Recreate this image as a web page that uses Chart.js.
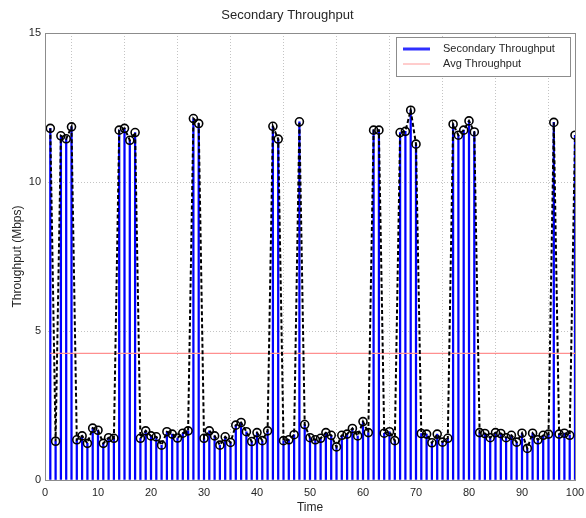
<!DOCTYPE html>
<html>
<head>
<meta charset="utf-8">
<title>Secondary Throughput</title>
<script src="https://cdn.jsdelivr.net/npm/chart.js@4/dist/chart.umd.min.js"></script>
<style>
    html, body { margin: 0; padding: 0; background: #fff; }
    #wrap { width: 586px; height: 518px; }
</style>
</head>
<body>
<div id="wrap"><canvas id="throughputChart" width="586" height="518"></canvas></div>
<script>
var times = [
    1, 2, 3, 4, 5, 6, 7, 8, 9, 10,
    11, 12, 13, 14, 15, 16, 17, 18, 19, 20,
    21, 22, 23, 24, 25, 26, 27, 28, 29, 30,
    31, 32, 33, 34, 35, 36, 37, 38, 39, 40,
    41, 42, 43, 44, 45, 46, 47, 48, 49, 50,
    51, 52, 53, 54, 55, 56, 57, 58, 59, 60,
    61, 62, 63, 64, 65, 66, 67, 68, 69, 70,
    71, 72, 73, 74, 75, 76, 77, 78, 79, 80,
    81, 82, 83, 84, 85, 86, 87, 88, 89, 90,
    91, 92, 93, 94, 95, 96, 97, 98, 99, 100
];
var throughput = [
    11.80, 1.30, 11.55, 11.45, 11.85, 1.35, 1.48, 1.23, 1.74, 1.67,
    1.23, 1.42, 1.40, 11.74, 11.80, 11.40, 11.66, 1.40, 1.65, 1.48,
    1.45, 1.17, 1.62, 1.54, 1.41, 1.57, 1.65, 12.13, 11.96, 1.40,
    1.65, 1.48, 1.17, 1.45, 1.26, 1.84, 1.93, 1.62, 1.29, 1.59,
    1.32, 1.65, 11.87, 11.44, 1.32, 1.35, 1.52, 12.02, 1.86, 1.42,
    1.35, 1.40, 1.59, 1.50, 1.11, 1.50, 1.54, 1.73, 1.48, 1.96,
    1.59, 11.74, 11.74, 1.57, 1.62, 1.32, 11.66, 11.70, 12.41, 11.27,
    1.56, 1.54, 1.25, 1.54, 1.27, 1.40, 11.94, 11.57, 11.74, 12.05,
    11.68, 1.59, 1.56, 1.42, 1.59, 1.56, 1.42, 1.50, 1.27, 1.57,
    1.06, 1.57, 1.35, 1.50, 1.54, 12.00, 1.54, 1.57, 1.50, 11.57
];
var avgThroughput = 4.25;
var avgSpan = [1, 100];
var xTicks = [0, 10, 20, 30, 40, 50, 60, 70, 80, 90, 100];
var yTicks = [0, 5, 10, 15];

(function () {
    'use strict';

    var FONT = '"Liberation Sans", Arial, Helvetica, sans-serif';
    var TEXT = '#262626';

    function toPoints(xs, ys) {
        return xs.map(function (x, i) { return { x: x, y: ys[i] }; });
    }

    // white page, full axes box
    var frame = {
        id: 'frame',
        beforeDraw: function (chart) {
            var ctx = chart.ctx;
            ctx.save();
            ctx.fillStyle = '#fff';
            ctx.fillRect(0, 0, chart.width, chart.height);
            ctx.restore();
        },
        afterDraw: function (chart) {
            var a = chart.chartArea;
            var ctx = chart.ctx;
            ctx.save();
            ctx.strokeStyle = '#8c8c8c';
            ctx.lineWidth = 1;
            ctx.strokeRect(Math.round(a.left) + 0.5, Math.round(a.top) + 0.5,
                Math.round(a.right - a.left), Math.round(a.bottom - a.top));
            ctx.restore();
        }
    };

    // matlab-like legend box inside the top right corner
    var boxLegend = {
        id: 'boxLegend',
        afterDraw: function (chart) {
            var a = chart.chartArea;
            var ctx = chart.ctx;
            var w = 174, h = 39;
            var x = a.right - 5 - w, y = a.top + 4;
            var items = [
                { label: chart.data.datasets[0].label, color: '#2f2fff', width: 3 },
                { label: chart.data.datasets[2].label, color: '#ff9a9a', width: 1 }
            ];
            ctx.save();
            ctx.fillStyle = '#fff';
            ctx.fillRect(x, y, w, h);
            ctx.strokeStyle = '#8c8c8c';
            ctx.lineWidth = 1;
            ctx.strokeRect(Math.round(x) + 0.5, Math.round(y) + 0.5, w, h);
            ctx.font = '11px ' + FONT;
            ctx.textBaseline = 'middle';
            ctx.fillStyle = TEXT;
            items.forEach(function (item, i) {
                var ly = y + 12 + i * 15;
                ctx.beginPath();
                ctx.strokeStyle = item.color;
                ctx.lineWidth = item.width;
                ctx.moveTo(x + 7, ly);
                ctx.lineTo(x + 34, ly);
                ctx.stroke();
                ctx.fillText(item.label, x + 47, ly);
            });
            ctx.restore();
        }
    };

    function init() {
        var el = document.getElementById('throughputChart');
        if (!el || typeof Chart === 'undefined') return;

        var gridDash = { display: false, dash: [1, 2] };

        new Chart(el, {
            type: 'bar',
            data: {
                datasets: [
                    {
                        type: 'bar',
                        label: 'Secondary Throughput',
                        data: toPoints(times, throughput),
                        backgroundColor: '#0000ff',
                        borderWidth: 0,
                        barThickness: 1.6,
                        order: 3
                    },
                    {
                        type: 'line',
                        label: 'Samples',
                        data: toPoints(times, throughput),
                        borderColor: '#000',
                        borderWidth: 2,
                        borderDash: [4, 2.5],
                        tension: 0,
                        fill: false,
                        pointRadius: 4,
                        pointBorderWidth: 1.6,
                        pointBorderColor: '#000',
                        pointBackgroundColor: 'rgba(0,0,0,0)',
                        order: 1
                    },
                    {
                        type: 'line',
                        label: 'Avg Throughput',
                        data: toPoints(avgSpan, [avgThroughput, avgThroughput]),
                        borderColor: '#ff8f8f',
                        borderWidth: 1.2,
                        pointRadius: 0,
                        fill: false,
                        order: 2
                    }
                ]
            },
            options: {
                responsive: false,
                animation: false,
                layout: { padding: { left: 0, right: 11, top: 0, bottom: 0 } },
                plugins: {
                    legend: { display: false },
                    tooltip: { enabled: false },
                    title: {
                        display: true,
                        text: 'Secondary Throughput',
                        color: TEXT,
                        font: { family: FONT, size: 13, weight: 'normal', lineHeight: 1.2 },
                        padding: { top: 8, bottom: 9.4 }
                    }
                },
                scales: {
                    x: {
                        type: 'linear',
                        min: 0,
                        max: 100,
                        offset: false,
                        afterBuildTicks: function (s) {
                            s.ticks = xTicks.map(function (v) { return { value: v }; });
                        },
                        afterFit: function (s) {
                            s.height = 38;
                            s.paddingLeft = 0;
                            s.paddingRight = 0;
                        },
                        ticks: { color: TEXT, padding: 6, maxRotation: 0, font: { family: FONT, size: 11 } },
                        grid: { color: '#c4c4c4', lineWidth: 1, drawTicks: false },
                        border: gridDash,
                        title: {
                            display: true,
                            text: 'Time',
                            color: TEXT,
                            font: { family: FONT, size: 12, lineHeight: 1.2 },
                            padding: { top: 0, bottom: 3 }
                        }
                    },
                    y: {
                        type: 'linear',
                        min: 0,
                        max: 15,
                        afterBuildTicks: function (s) {
                            s.ticks = yTicks.map(function (v) { return { value: v }; });
                        },
                        afterFit: function (s) {
                            s.width = 45;
                            s.paddingTop = 0;
                            s.paddingBottom = 0;
                        },
                        ticks: { color: TEXT, padding: 4, font: { family: FONT, size: 11 } },
                        grid: { color: '#c4c4c4', lineWidth: 1, drawTicks: false },
                        border: gridDash,
                        title: {
                            display: true,
                            text: 'Throughput (Mbps)',
                            color: TEXT,
                            font: { family: FONT, size: 12, lineHeight: 1.2 },
                            padding: { top: 10, bottom: 0 }
                        }
                    }
                }
            },
            plugins: [frame, boxLegend]
        });
    }

    if (document.readyState === 'loading') {
        document.addEventListener('DOMContentLoaded', init);
    } else {
        init();
    }
})();
</script>
</body>
</html>
